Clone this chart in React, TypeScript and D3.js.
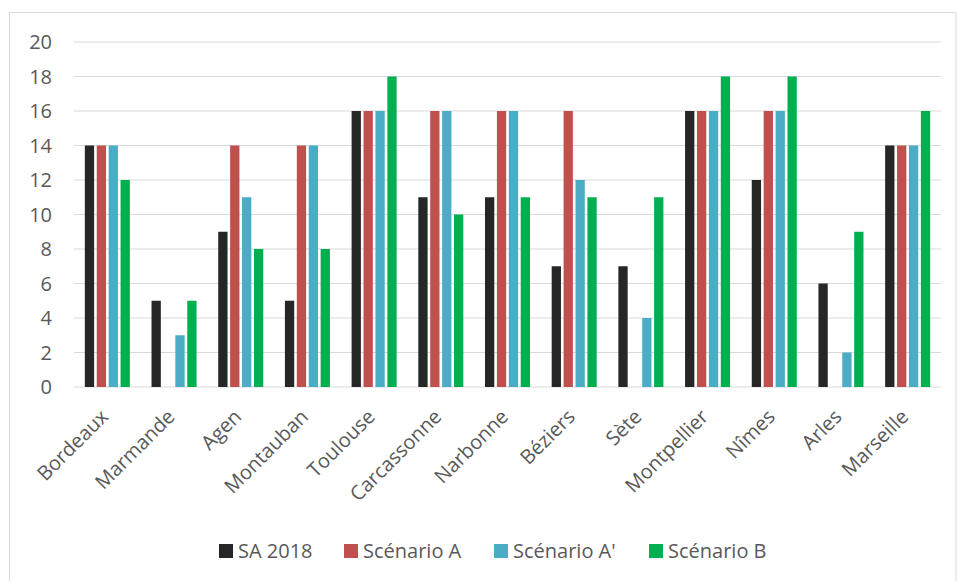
import React, { useEffect, useRef } from 'react';
import * as d3 from 'd3';

const cities = ['Bordeaux', 'Marmande', 'Agen', 'Montauban', 'Toulouse', 'Carcassonne', 'Narbonne', 'Béziers', 'Sète', 'Montpellier', 'Nîmes', 'Arles', 'Marseille'];
const seriesNames = ['SA 2018', 'Scénario A', "Scénario A'", 'Scénario B'];
const sa2018 = [14, 5, 9, 5, 16, 11, 11, 7, 7, 16, 12, 6, 14];
const scenarioA = [14, 0, 14, 14, 16, 16, 16, 16, 0, 16, 16, 0, 14];
const scenarioAPrime = [14, 3, 11, 14, 16, 16, 16, 12, 4, 16, 16, 2, 14];
const scenarioB = [12, 5, 8, 8, 18, 10, 11, 11, 11, 18, 18, 9, 16];
const yTicks = [0, 2, 4, 6, 8, 10, 12, 14, 16, 18, 20];
const colors = ['#262626', '#C0504D', '#4BACC6', '#00B050'];

const App: React.FC = () => {
  const svgRef = useRef<SVGSVGElement | null>(null);

  useEffect(() => {
    const width = 957;
    const height = 581;
    const margin = { top: 42, right: 16, bottom: 194, left: 74 };
    const font = '"Open Sans", sans-serif';
    const fontSize = 20;
    const textColor = '#595959';

    const values = [sa2018, scenarioA, scenarioAPrime, scenarioB];

    const svg = d3.select(svgRef.current)
      .attr('width', width)
      .attr('height', height);

    svg.selectAll('*').remove();

    // chart frame
    svg.append('rect')
      .attr('x', 9.5)
      .attr('y', 12.5)
      .attr('width', 946.5)
      .attr('height', 590)
      .attr('fill', 'white')
      .attr('stroke', '#D9D9D9')
      .attr('stroke-width', 1);

    const x0 = d3.scaleBand<string>()
      .domain(cities)
      .range([margin.left, width - margin.right])
      .paddingInner(0.325)
      .paddingOuter(0.1625);

    const x1 = d3.scaleBand<string>()
      .domain(seriesNames)
      .range([0, x0.bandwidth()])
      .paddingInner(0.22);

    const y = d3.scaleLinear()
      .domain([0, 20])
      .range([height - margin.bottom, margin.top]);

    // gridlines
    svg.append('g')
      .selectAll('line')
      .data(yTicks)
      .join('line')
      .attr('x1', margin.left)
      .attr('x2', width - margin.right)
      .attr('y1', d => y(d))
      .attr('y2', d => y(d))
      .attr('stroke', '#D9D9D9')
      .attr('stroke-width', 1);

    // y axis labels
    svg.append('g')
      .selectAll('text')
      .data(yTicks)
      .join('text')
      .attr('x', 52)
      .attr('y', d => y(d))
      .attr('dy', '0.35em')
      .attr('text-anchor', 'end')
      .attr('font-family', font)
      .attr('font-size', fontSize)
      .attr('fill', textColor)
      .text(d => d);

    // bars
    seriesNames.forEach((name, si) => {
      svg.append('g')
        .selectAll('rect')
        .data(values[si])
        .join('rect')
        .attr('x', (_, i) => (x0(cities[i]) ?? 0) + (x1(name) ?? 0))
        .attr('y', d => y(d))
        .attr('width', x1.bandwidth())
        .attr('height', d => y(0) - y(d))
        .attr('fill', colors[si]);
    });

    // x labels
    svg.append('g')
      .selectAll('text')
      .data(cities)
      .join('text')
      .attr('transform', d => `translate(${(x0(d) ?? 0) + x0.bandwidth() / 2 + 2},${y(0) + 31}) rotate(-45)`)
      .attr('text-anchor', 'end')
      .attr('font-family', font)
      .attr('font-size', fontSize)
      .attr('fill', textColor)
      .text(d => d);

    // legend
    const legendX = [219, 344, 494, 649];
    const legend = svg.append('g');
    seriesNames.forEach((name, i) => {
      legend.append('rect')
        .attr('x', legendX[i])
        .attr('y', 544)
        .attr('width', 14)
        .attr('height', 14)
        .attr('fill', colors[i]);
      legend.append('text')
        .attr('x', legendX[i] + 19)
        .attr('y', 551)
        .attr('dy', '0.35em')
        .attr('font-family', font)
        .attr('font-size', fontSize)
        .attr('fill', textColor)
        .text(name);
    });
  }, []);

  return (
    <svg ref={svgRef} style={{ position: 'absolute', left: 0, top: 0, display: 'block' }}></svg>
  );
};

export default App;
